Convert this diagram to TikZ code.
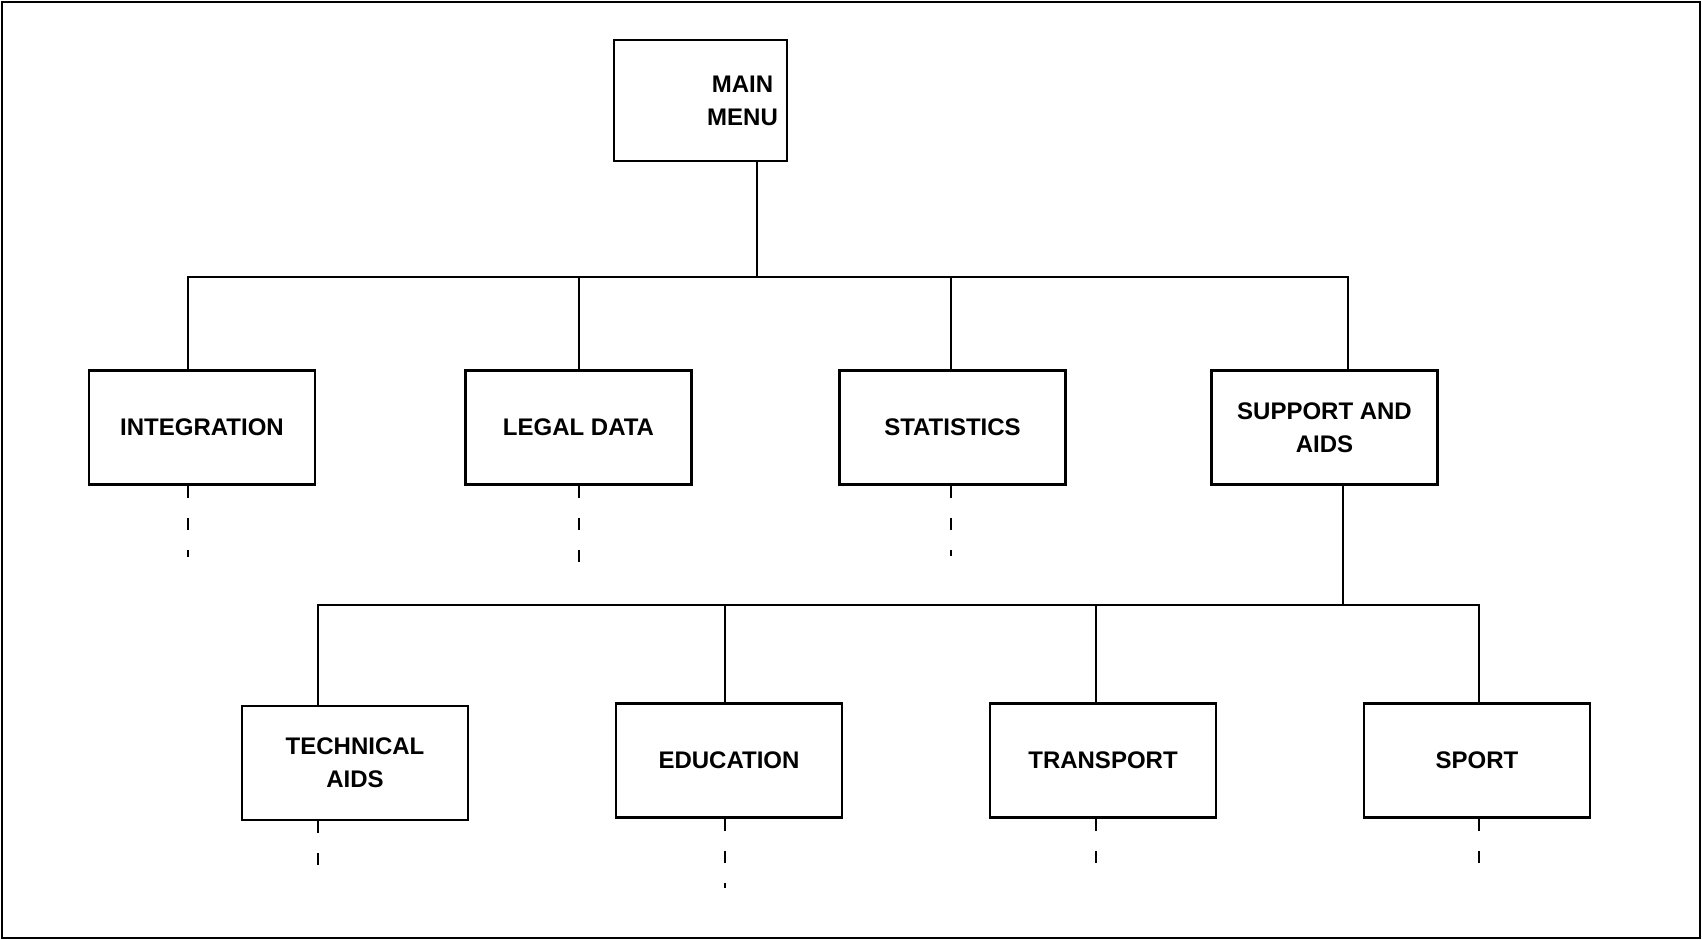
\documentclass[tikz,border=0pt]{standalone}
\usepackage{fontspec}
\setmainfont{Liberation Sans}
\usepackage{tikz}
\tikzstyle{menubox} = [rectangle, 
minimum width=86.5pt, 
minimum height=60.5pt, 
text centered, 
align=center, 
draw=black, 
line width=1.4pt, 
font=\fontsize{12}{16.5}\selectfont\bfseries]
\tikzstyle{optionbox} = [rectangle, 
minimum width=113pt, 
minimum height=57pt, 
text centered, 
align=center, 
draw=black, 
line width=1.4pt, 
font=\fontsize{12}{16.5}\selectfont\bfseries]
\tikzstyle{link} = [line width=1.4pt]
\tikzstyle{stub} = [line width=1.4pt, 
dash pattern=on 6pt off 10pt]
\tikzstyle{frame} = [line width=1.4pt]

\begin{document}
\begin{tikzpicture}[x=0.5pt, y=-0.5pt, node distance=187pt]
			
			\useasboundingbox (0,0) rectangle (1702,940);
			\draw [frame] (2,2) rectangle (1700,938);
			
			\node (main) [menubox] at (700.5,100.5) {\hspace*{42pt}MAIN\\\hspace*{42pt}MENU};
			
			\node (integ) [optionbox, below of=main, xshift=-249.25pt, yshift=23.5pt] {INTEGRATION};
			
			\node (legal) [optionbox, right of=integ, xshift=1.25pt] {LEGAL DATA};
			
			\node (stats) [optionbox, right of=legal] {STATISTICS};
			
			\node (support) [optionbox, right of=stats, xshift=-1pt] {SUPPORT AND\\AIDS};
			
			\node (tech) [optionbox, below of=integ, xshift=76.5pt, yshift=19.25pt] {TECHNICAL\\AIDS};
			
			\node (educ) [optionbox, right of=tech, yshift=1.25pt] {EDUCATION};
			
			\node (transp) [optionbox, right of=educ] {TRANSPORT};
			
			\node (sport) [optionbox, right of=transp] {SPORT};
			
			% junctions and loose ends
			\coordinate (top) at (757,277);
			\coordinate (k4) at (1348,277);
			\coordinate (sub) at (1343,605);
			\coordinate (d1) at (188,557);
			\coordinate (d2) at (579,563);
			\coordinate (d3) at (951,556);
			\coordinate (d5) at (318,884);
			\coordinate (d6) at (725,888);
			\coordinate (d7) at (1096,874);
			\coordinate (d8) at (1479,872);
			
			\draw [link] (top |- main.south) -- (top);
			\draw [link] (d1 |- integ.north) -- (d1 |- top) -- (k4) -- (k4 |- support.north);
			\draw [link] (d2 |- top) -- (d2 |- legal.north);
			\draw [link] (d3 |- top) -- (d3 |- stats.north);
			\draw [link] (sub |- support.south) -- (sub);
			\draw [link] (d5 |- tech.north) -- (d5 |- sub) -- (d8 |- sub) -- (d8 |- sport.north);
			\draw [link] (d6 |- sub) -- (d6 |- educ.north);
			\draw [link] (d7 |- sub) -- (d7 |- transp.north);
			
			\draw [stub] (d1 |- integ.south) -- (d1);
			\draw [stub] (d2 |- legal.south) -- (d2);
			\draw [stub] (d3 |- stats.south) -- (d3);
			\draw [stub] (d5 |- tech.south) -- (d5);
			\draw [stub] (d6 |- educ.south) -- (d6);
			\draw [stub] (d7 |- transp.south) -- (d7);
			\draw [stub] (d8 |- sport.south) -- (d8);
			
			
			\end{tikzpicture}
\end{document}
